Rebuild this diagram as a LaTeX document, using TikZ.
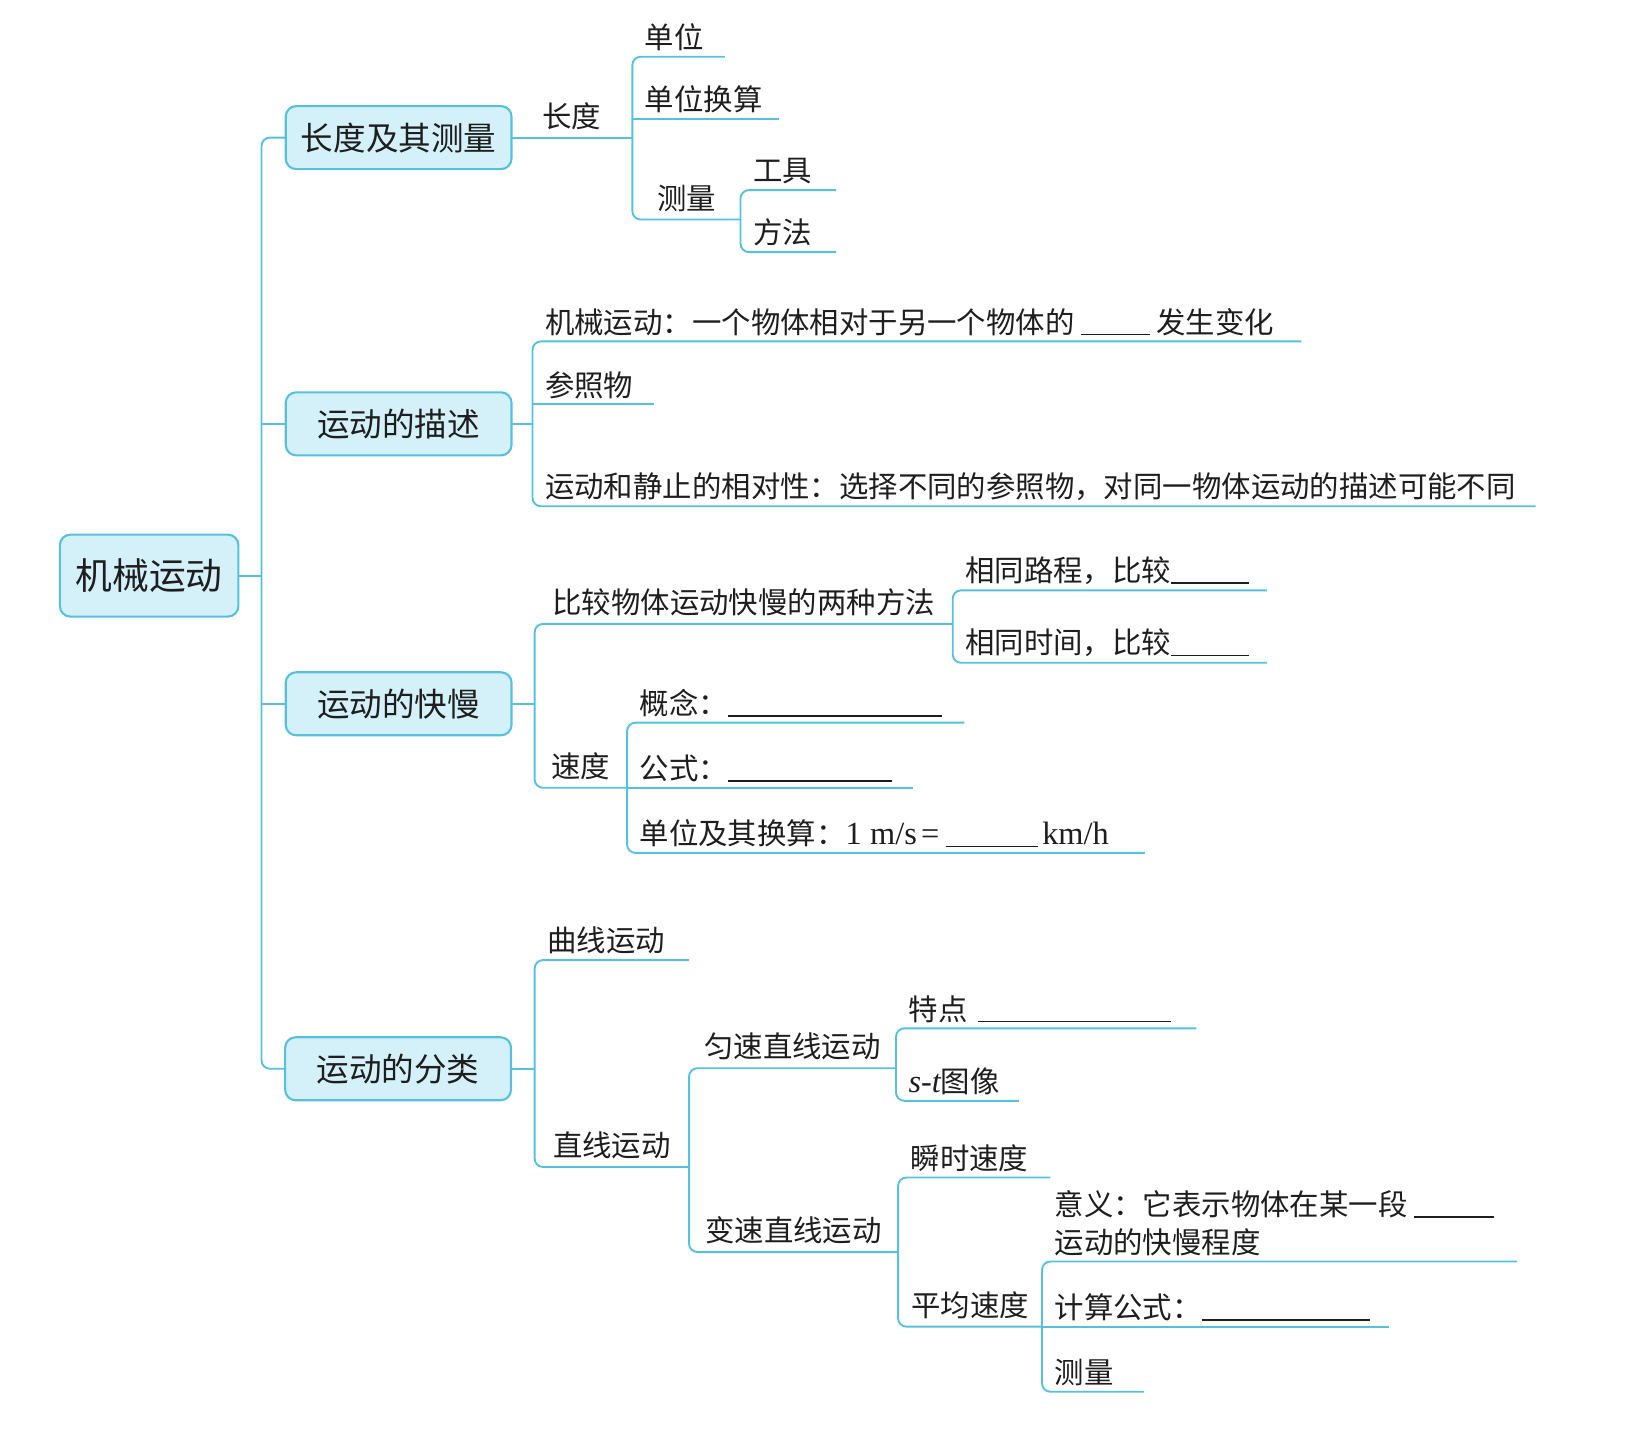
\documentclass[tikz,border=0pt]{standalone}
\usepackage{fontspec}
\setmainfont{Noto Sans CJK SC}
\newfontfamily\lat{Liberation Serif}[Scale=1.1]
\definecolor{lc}{RGB}{86,192,222}
\definecolor{bf}{RGB}{212,241,250}
\definecolor{tx}{RGB}{30,30,30}
\newcommand\blank[1]{\rule[-1pt]{#1}{0.6pt}}
\newcommand\leafnode[5]{\pgfmathsetmacro\tw{(#4-#2)/2-12}%
  \node[leaf,text width=\tw pt] (#1) at (#2,#3) {#5};}
\newcommand\forknode[5]{\pgfmathsetmacro\tw{(#4-#2)/2}%
  \node[fork,minimum width=\tw pt] (#1) at (#2,#3) {#5};}
\begin{document}
\begin{tikzpicture}[x=0.5pt,y=-0.5pt,
  ln/.style={draw=lc,line width=0.9pt},
  rc/.style={ln,rounded corners=4pt},
  topic/.style={draw=lc,fill=bf,line width=1pt,rounded corners=5pt,minimum width=107.5pt,minimum height=30pt,inner sep=0pt,outer sep=0pt,text=tx,font=\fontsize{15.5}{18}\selectfont},
  leaf/.style={anchor=south west,inner xsep=6pt,inner ysep=2.75pt,outer sep=0pt,align=left,text=tx,font=\fontsize{14}{18}\selectfont},
  fork/.style={leaf,inner xsep=0pt,inner ysep=3.75pt}]
\useasboundingbox (0,0) rectangle (1568,1360);
\node[topic,minimum width=85pt,minimum height=39pt,font=\fontsize{17.5}{20}\selectfont] (m) at (142,548) {机械运动};
\node[topic] (b1) at (379.5,131) {长度及其测量};
\node[topic] (b2) at (379.5,403.5) {运动的描述};
\node[topic] (b3) at (379.5,670) {运动的快慢};
\node[topic] (b4) at (379,1017.5) {运动的分类};
\coordinate (tr) at (249,548);
\draw[rc] (b1.west) -| (tr) |- (b4.west);
\draw[ln] (m.east) -- (tr);
\draw[ln] (tr |- b2.west) -- (b2.west);
\draw[ln] (tr |- b3.west) -- (b3.west);

\forknode{p11}{487}{131}{602}{长度}
\leafnode{l11}{602}{54}{690}{单位}
\leafnode{l12}{602}{113}{742}{单位换算}
\forknode{p12}{602}{209}{705}{测量}
\leafnode{l13}{705}{181}{796}{工具}
\leafnode{l14}{705}{240}{796}{方法}
\draw[ln] (b1.east) -- (p11.south east);
\draw[rc] (l11.south east) -- (l11.south west) -- (p12.south west) -- (p12.south east);
\draw[ln] (l12.south west) -- (l12.south east);
\draw[rc] (l13.south east) -- (l13.south west) -- (l14.south west) -- (l14.south east);

\leafnode{l21}{507}{325}{1239}{机械运动：一个物体相对于另一个物体的\kern3pt\blank{33pt}\kern3pt发生变化}
\leafnode{l22}{507}{385}{623}{参照物}
\leafnode{l23}{507}{482}{1462}{运动和静止的相对性：选择不同的参照物，对同一物体运动的描述可能不同}
\draw[ln] (b2.east) -- (b2.east -| l21.south west);
\draw[rc] (l21.south east) -- (l21.south west) -- (l23.south west) -- (l23.south east);
\draw[ln] (l22.south west) -- (l22.south east);

\forknode{p31}{509}{594}{907}{比较物体运动快慢的两种方法}
\leafnode{l31}{907}{562}{1206}{相同路程，比较\blank{37pt}}
\leafnode{l32}{907}{631}{1206}{相同时间，比较\blank{37pt}}
\forknode{p32}{509}{750}{597}{速度}
\leafnode{l33}{597}{688}{918}{概念：\blank{102pt}}
\leafnode{l34}{597}{750}{869}{公式：\blank{78pt}}
\leafnode{l35}{597}{812}{1090}{单位及其换算：{\lat 1\kern4pt m/s\kern2pt=\kern3pt}\blank{44pt}{\lat\kern2pt km/h}}
\draw[ln] (b3.east) -- (b3.east -| p31.south west);
\draw[rc] (p31.south east) -- (p31.south west) -- (p32.south west) -- (p32.south east);
\draw[rc] (l31.south east) -- (l31.south west) -- (l32.south west) -- (l32.south east);
\draw[rc] (l33.south east) -- (l33.south west) -- (l35.south west) -- (l35.south east);
\draw[ln] (l34.south west) -- (l34.south east);

\leafnode{l41}{509}{914}{656}{曲线运动}
\forknode{p41}{509}{1111}{656}{直线运动}
\forknode{p42}{656}{1017}{853}{匀速直线运动}
\forknode{p43}{656}{1192}{855}{变速直线运动}
\leafnode{l42}{853}{979}{1139}{特点\kern5pt\blank{92pt}}
\leafnode{l43}{853}{1048}{970}{{\lat\itshape s}{\lat -}{\lat\itshape t}图像}
\leafnode{l44}{855}{1121}{1000}{瞬时速度}
\forknode{p44}{855}{1263}{992}{平均速度}
\leafnode{l45}{992}{1201}{1444}{意义：它表示物体在某一段\kern3pt\blank{38pt}\\运动的快慢程度}
\leafnode{l46}{992}{1263}{1322}{计算公式：\blank{80pt}}
\leafnode{l47}{992}{1325}{1089}{测量}
\draw[ln] (b4.east) -- (b4.east -| l41.south west);
\draw[rc] (l41.south east) -- (l41.south west) -- (p41.south west) -- (p41.south east);
\draw[rc] (p42.south east) -- (p42.south west) -- (p43.south west) -- (p43.south east);
\draw[rc] (l42.south east) -- (l42.south west) -- (l43.south west) -- (l43.south east);
\draw[rc] (l44.south east) -- (l44.south west) -- (p44.south west) -- (p44.south east);
\draw[rc] (l45.south east) -- (l45.south west) -- (l47.south west) -- (l47.south east);
\draw[ln] (l46.south west) -- (l46.south east);
\end{tikzpicture}
\end{document}
